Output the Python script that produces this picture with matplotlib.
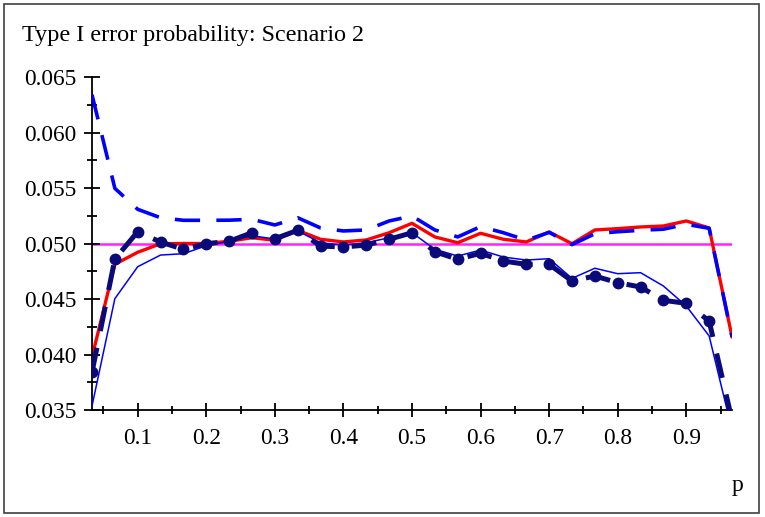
import matplotlib
matplotlib.use("Agg")
import matplotlib.pyplot as plt
from matplotlib.ticker import MultipleLocator, FixedLocator
from matplotlib.patches import Rectangle

plt.rcParams['font.family'] = ['Liberation Serif', 'DejaVu Serif']

p = [k / 30 for k in range(1, 30)]

red_solid = [0.03977, 0.04813, 0.04921, 0.04998, 0.0500, 0.0500, 0.0502, 0.05052, 0.05029, 0.05119,
             0.05038, 0.05014, 0.05032, 0.05097, 0.05182, 0.05059, 0.05007, 0.05092, 0.05038, 0.05014,
             0.05104, 0.04998, 0.05122, 0.05134, 0.05149, 0.05158, 0.05203, 0.0514, 0.0416]

blue_dashed = [0.0634, 0.05497, 0.05308, 0.05232, 0.05209, 0.05209, 0.0521, 0.05218, 0.05167, 0.05232,
               0.0514, 0.05113, 0.05122, 0.05203, 0.05248, 0.05122, 0.05059, 0.05152, 0.05097, 0.0503,
               0.05100, 0.04990, 0.05088, 0.05106, 0.05119, 0.05129, 0.05173, 0.05137, 0.0416]

thin_blue = [0.03536, 0.04503, 0.04791, 0.04896, 0.04908, 0.0498, 0.0502, 0.0507, 0.0504, 0.05113,
             0.05007, 0.04986, 0.05007, 0.05052, 0.05097, 0.04948, 0.04887, 0.04941, 0.04878, 0.04851,
             0.04863, 0.04686, 0.04777, 0.04728, 0.04737, 0.04617, 0.04437, 0.04167, 0.0332]

navy_dotted = [0.0384, 0.0486, 0.05106, 0.05013, 0.04948, 0.04998, 0.0502, 0.05097, 0.05043, 0.05119,
               0.04977, 0.04968, 0.04986, 0.05038, 0.05097, 0.04926, 0.04858, 0.04912, 0.04842, 0.04812,
               0.04812, 0.04662, 0.04707, 0.04647, 0.04608, 0.04488, 0.04461, 0.04302, 0.0341]

nominal = 0.05

fig = plt.figure(figsize=(7.65, 5.17), dpi=100)
fig.patches.append(Rectangle((4 / 765, 1 - 513 / 517), 755 / 765, 509 / 517,
                             transform=fig.transFigure, fill=False, edgecolor='#404040', lw=1.2))
ax = fig.add_axes([92 / 765, 1 - 410 / 517, (732 - 92) / 765, (410 - 77) / 517])

ax.plot([p[0], p[-1]], [nominal, nominal], color='#ff22ff', lw=1.8, zorder=1)
ax.plot(p, red_solid, color='#ff0000', lw=2.4, zorder=2)
ax.plot(p, thin_blue, color='#0000ff', lw=1.1, zorder=3)
ax.plot(p, blue_dashed, color='#0000ff', lw=2.6, dashes=(7, 4.5), zorder=4)
ax.plot(p, navy_dotted, color='#0a0a78', lw=3.6, dashes=(5, 3.4), marker='o', ms=7.5,
        zorder=5)

ax.set_xlim(p[0], p[-1])
ax.set_ylim(0.035, 0.065)
for s in ['top', 'right']:
    ax.spines[s].set_visible(False)
for s in ['left', 'bottom']:
    ax.spines[s].set_linewidth(1.3)

ax.xaxis.set_major_locator(FixedLocator([0.1, 0.2, 0.3, 0.4, 0.5, 0.6, 0.7, 0.8, 0.9]))
ax.xaxis.set_minor_locator(FixedLocator([0.05, 0.15, 0.25, 0.35, 0.45, 0.55, 0.65, 0.75, 0.85, 0.95]))
ax.yaxis.set_major_locator(MultipleLocator(0.005))
ax.yaxis.set_minor_locator(MultipleLocator(0.0025))
ax.set_xticklabels(['0.1', '0.2', '0.3', '0.4', '0.5', '0.6', '0.7', '0.8', '0.9'])
ax.set_yticklabels(['%.3f' % v for v in ax.get_yticks()])
ax.tick_params(axis='both', which='major', direction='inout', length=12, width=1.3,
               labelsize=16.8, pad=5)
ax.tick_params(axis='both', which='minor', direction='inout', length=7, width=1.3)
ax.tick_params(axis='x', which='major', length=10, pad=8)
ax.tick_params(axis='x', which='minor', length=6)

fig.text(22 / 765, 1 - 36 / 517, 'Type I error probability: Scenario 2', fontsize=17.4,
         va='center', ha='left')
fig.text(737 / 765, 1 - 486 / 517, 'p', fontsize=17, va='center', ha='center')

fig.savefig('out.png', dpi=100)
